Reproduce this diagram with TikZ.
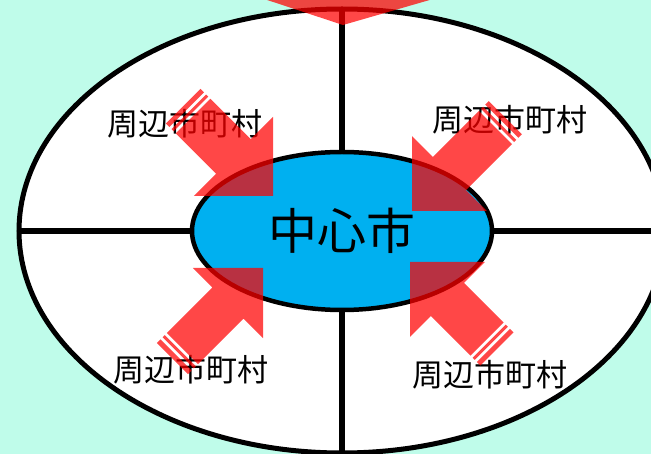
\documentclass[tikz,border=0pt]{standalone}
\usepackage{fontspec}
\newfontfamily\jpfont{Noto Sans CJK JP}
\usetikzlibrary{shapes.geometric}
\definecolor{Background}{RGB}{191,252,234}
\definecolor{HubBlue}{RGB}{0,176,240}
\colorlet{InflowRed}{red}

\tikzset{
  region/.style={draw=black, line width=5pt, fill=white},
  divider/.style={line width=5.5pt},
  hub/.style={ellipse, draw=black, line width=4.5pt, fill=HubBlue,
    minimum width=300pt, minimum height=158pt, inner sep=0pt,
    font=\jpfont\fontsize{49}{49}\selectfont},
  town/.style={inner sep=0pt, font=\jpfont\fontsize{31}{31}\selectfont},
  inflow/.style={fill=InflowRed, fill opacity=0.72},
}

% tip, angle, head half width, shaft half width, length
\newcommand{\StripedArrow}[5]{%
  \fill[inflow, shift={#1}, rotate=#2]
    (0,0) -- (-#3,#3) -- (-#3,#4) -- ({-#5+14},#4) -- ({-#5+14},-#4)
    -- (-#3,-#4) -- (-#3,-#3) -- cycle
    ({-#5+11},#4) rectangle ({-#5+8},-#4)
    ({-#5+5},#4) rectangle (-#5,-#4);
}

\begin{document}
\begin{tikzpicture}[x=1pt, y=-1pt]

    \fill[Background] (0,0) rectangle (651,454);
    \useasboundingbox (0,0) rectangle (651,454);

    \coordinate (rimN) at (342,9);
    \coordinate (rimS) at (342,453);
    \coordinate (rimW) at (19,231);
    \coordinate (rimE) at (665,231);

    \draw[region] (342,231) ellipse [x radius=323pt, y radius=222pt];
    \draw[divider] (rimN) -- (rimS);
    \draw[divider] (rimW) -- (rimE);

    \node[hub] (hub) at (342,231) {中心市};

    \node[town] (townNW) at (184.5,124) {周辺市町村};
    \node[town] (townNE) at (510,120) {周辺市町村};
    \node[town] (townSW) at (191,370) {周辺市町村};
    \node[town] (townSE) at (490,375) {周辺市町村};

    % flechas hacia el centro
    \StripedArrow{(273,196)}{-45}{56}{24.5}{127}
    \StripedArrow{(412,211)}{-135}{53}{23.5}{132}
    \StripedArrow{(263,268)}{45}{49.5}{22}{128}
    \StripedArrow{(410,262)}{135}{53}{23.5}{123}

    \coordinate (topTip) at (343,25);
    \fill[inflow] (topTip) -- (252,-5) -- (447,-5) -- cycle;
\end{tikzpicture}
\end{document}
